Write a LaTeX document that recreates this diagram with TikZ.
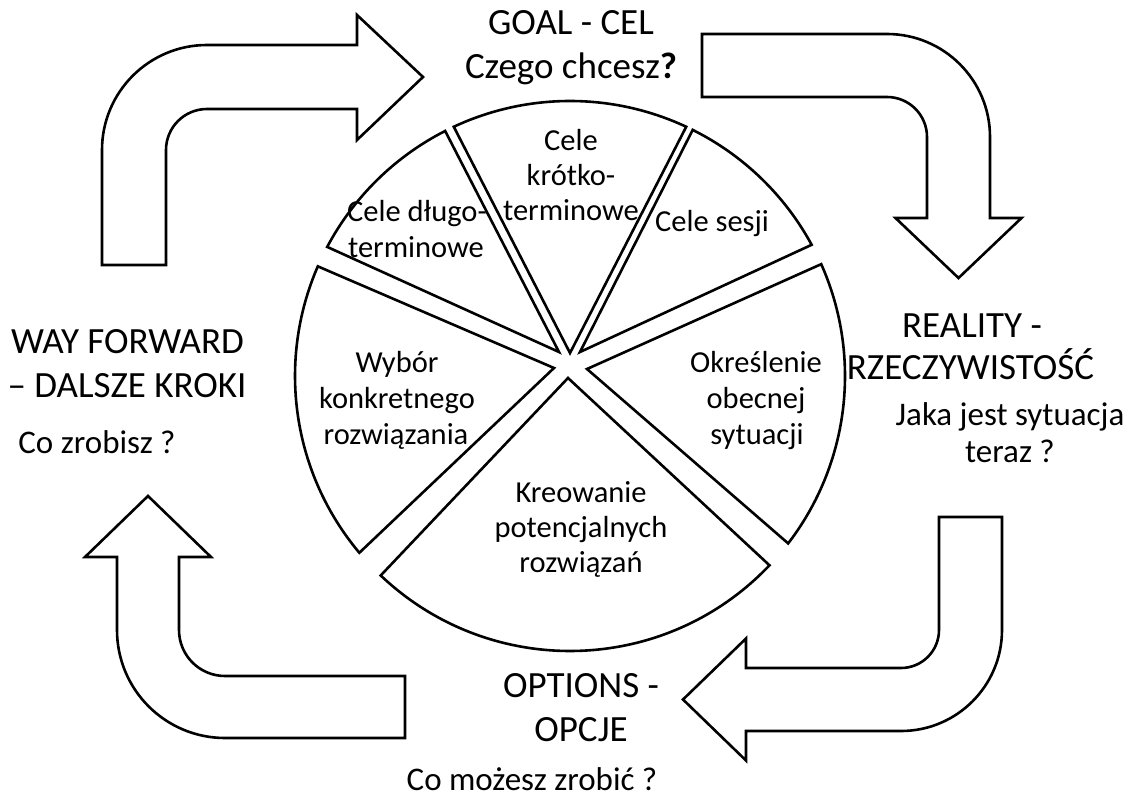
\documentclass[tikz,border=0pt]{standalone}
\usepackage{fontspec}
\setmainfont{Carlito}
\usetikzlibrary{calc}

\tikzset{
  outline/.style={draw=black, line width=2.6pt, fill=white, line join=miter},
  headtext/.style={font=\fontsize{37}{44}\selectfont, anchor=base, inner sep=0pt},
  asktext/.style={font=\fontsize{33}{39}\selectfont, anchor=base, inner sep=0pt},
  slicetext/.style={font=\fontsize{30.5}{36}\selectfont, anchor=base, inner sep=0pt},
}

% pie sector: apex, start angle, end angle (angles in the y-down frame)
\newcommand\pieslice[3]{%
  \draw[outline] (#1) -- ($(pc)+(#2:275)$) arc[start angle=#2, end angle=#3, radius=275] -- cycle;}

\begin{document}
\begin{tikzpicture}[x=1pt, y=-1pt]
\useasboundingbox (0,0) rectangle (1133,800);

% ---------- curved block arrows ----------
% top left: up, then right towards the goal
\draw[outline] (102,265) -- (102,150) arc[start angle=180, end angle=270, radius=105]
  -- (357,45) -- (357,15) -- (423,77) -- (357,140) -- (357,109) -- (207,109)
  arc[start angle=270, end angle=180, radius=41] -- (166,265) -- cycle;
% top right: right, then down towards reality
\draw[outline] (702,34) -- (887,34) arc[start angle=270, end angle=360, radius=103]
  -- (990,218) -- (1021.5,218) -- (958.5,278) -- (895.5,218) -- (927,218) -- (927,137)
  arc[start angle=0, end angle=-90, radius=40] -- (702,97) -- cycle;
% bottom right: down, then left towards the options
\draw[outline] (939,517) -- (1002,517) -- (1002,630) arc[start angle=0, end angle=90, radius=101]
  -- (746,731) -- (746,760.5) -- (683,699.5) -- (746,638.5) -- (746,668) -- (901,668)
  arc[start angle=90, end angle=0, radius=38] -- cycle;
% bottom left: left, then up towards the way forward
\draw[outline] (148,496) -- (211,557) -- (179,557) -- (179,630)
  arc[start angle=180, end angle=90, radius=46] -- (405,676) -- (405,738) -- (225,738)
  arc[start angle=90, end angle=180, radius=108] -- (117,557) -- (85,557) -- cycle;

% ---------- exploded pie ----------
\coordinate (pc) at (570,376);
\coordinate (apexLong)  at (559,352);
\coordinate (apexShort) at (570,353);
\coordinate (apexSess)  at (580,352);
\coordinate (apexReal)  at (587,369);
\coordinate (apexOpt)   at (568,378);
\coordinate (apexWay)   at (554,368);

\pieslice{apexLong}{-152}{-117}
\pieslice{apexShort}{-115}{-65}
\pieslice{apexSess}{-63.5}{-28.5}
\pieslice{apexReal}{-24}{37.5}
\pieslice{apexOpt}{43.5}{133.5}
\pieslice{apexWay}{140}{203.5}

% ---------- slice labels ----------
\node[slicetext] (sA1) at (571,150) {Cele};
\node[slicetext] (sA2) at (571,185) {krótko-};
\node[slicetext] (sA3) at (571,220) {terminowe};
\node[slicetext] (sB1) at (417,221) {Cele długo-};
\node[slicetext] (sB2) at (416,257) {terminowe};
\node[slicetext] (sC1) at (712,231) {Cele sesji};
\node[slicetext] (sD1) at (756,372) {Określenie};
\node[slicetext] (sD2) at (756,408) {obecnej};
\node[slicetext] (sD3) at (757,444) {sytuacji};
\node[slicetext] (sE1) at (581,502) {Kreowanie};
\node[slicetext] (sE2) at (581,537) {potencjalnych};
\node[slicetext] (sE3) at (581,572) {rozwiązań};
\node[slicetext] (sF1) at (397,372) {Wybór};
\node[slicetext] (sF2) at (397,408) {konkretnego};
\node[slicetext] (sF3) at (396,444) {rozwiązania};

% ---------- stage labels ----------
\node[headtext] (goal1) at (571,35) {GOAL - CEL};
\node[headtext] (goal2) at (571,78) {Czego chcesz\textbf{?}};

\node[headtext] (real1) at (972,337) {REALITY -};
\node[headtext] (real2) at (970.5,379) {RZECZYWISTOŚĆ};
\node[asktext]  (real3) at (1010,425) {Jaka jest sytuacja};
\node[asktext]  (real4) at (1010,462) {teraz ?};

\node[headtext] (opt1) at (581,697) {OPTIONS -};
\node[headtext] (opt2) at (581,741) {OPCJE};
\node[asktext]  (opt3) at (532,790) {Co możesz zrobić ?};

\node[headtext] (way1) at (127.5,353) {WAY FORWARD};
\node[headtext] (way2) at (127,397) {– DALSZE KROKI};
\node[asktext]  (way3) at (97,453) {Co zrobisz ?};
\end{tikzpicture}
\end{document}
